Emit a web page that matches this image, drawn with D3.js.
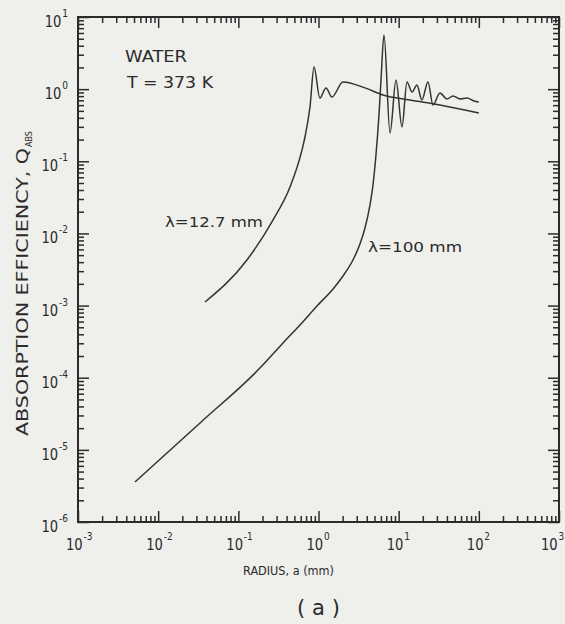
<!DOCTYPE html>
<html><head><meta charset="utf-8">
<script src="https://cdn.jsdelivr.net/npm/d3@7"></script>
<style>html,body{margin:0;padding:0;background:#efefec;} svg{display:block;}</style>
</head><body><svg id="c" width="565" height="624"></svg>
<script>
// ---- data ----
const radius127 = [0.0384, 0.128, 0.270, 0.441, 0.622, 0.678, 0.783, 0.879, 1.04, 1.24, 1.47, 2.02, 3.80, 6.37, 13.8, 32.7, 100];
const qabs127   = [1.12e-3, 4.28e-3, 0.0153, 0.044, 0.143, 0.217, 0.565, 2.03, 0.753, 1.04, 0.778, 1.26, 1.04, 0.83, 0.707, 0.603, 0.467];
const radius100 = [0.00514, 0.0333, 0.186, 0.361, 0.587, 0.957, 1.52, 2.02, 2.69, 3.29, 3.80, 4.39, 4.78, 5.21, 5.68, 6.02, 6.56, 7.80, 9.27, 11.0, 12.7, 14.7, 16.9, 19.5, 23.2, 26.8, 32.7, 40.1, 47.6, 58.2, 71.1, 87.1, 100];
const qabs100   = [3.58e-6, 2.36e-5, 1.36e-4, 3.03e-4, 5.38e-4, 9.86e-4, 1.70e-3, 2.57e-3, 4.28e-3, 7.13e-3, 0.0119, 0.0248, 0.0469, 0.122, 0.438, 1.34, 5.62, 0.247, 1.34, 0.299, 1.26, 0.913, 1.14, 0.707, 1.26, 0.603, 0.884, 0.730, 0.804, 0.730, 0.753, 0.686, 0.664];
const xTickValues = [1e-3, 1e-2, 1e-1, 1, 10, 100, 1000];
const xTickExps   = ["-3", "-2", "-1", "0", "1", "2", "3"];
const yTickValues = [1e-6, 1e-5, 1e-4, 1e-3, 1e-2, 1e-1, 1, 10];
const yTickExps   = ["-6", "-5", "-4", "-3", "-2", "-1", "0", "1"];
const curveLabels = ["λ=12.7 mm", "λ=100 mm"];
const noteLines = ["WATER", "T = 373 K"];

// ---- layout ----
const L = 78, R = 559, T = 17, B = 522;
const ink = "#2b2b2b";
const font = "'DejaVu Sans', sans-serif";
const svg = d3.select("#c");
svg.append("rect").attr("width",565).attr("height",624).attr("fill","#efefec");

const x = d3.scaleLog().domain([1e-3, 1e3]).range([L, R]);
const y = d3.scaleLog().domain([1e-6, 1e1]).range([B, T]);

function minors(lo, hi){ const out=[]; for(let e=lo;e<hi;e++) for(let k=2;k<=9;k++) out.push(k*Math.pow(10,e)); return out; }
const xMinor = minors(-3,3), yMinor = minors(-6,1);

function styleAxis(g){ g.select(".domain").remove(); g.selectAll("line").attr("stroke",ink).attr("stroke-width",1.5); g.selectAll("text").remove(); }
const axes = [
  [d3.axisBottom(x), `translate(0,${B})`, xTickValues, xMinor],
  [d3.axisTop(x), `translate(0,${T})`, xTickValues, xMinor],
  [d3.axisLeft(y), `translate(${L},0)`, yTickValues, yMinor],
  [d3.axisRight(y), `translate(${R},0)`, yTickValues, yMinor]
];
axes.forEach(([ax, tr, maj, min])=>{
  svg.append("g").attr("transform",tr).call(ax.tickValues(min).tickSize(-6).tickSizeOuter(0).tickFormat("")).call(styleAxis);
  svg.append("g").attr("transform",tr).call(ax.tickValues(maj).tickSize(-11).tickSizeOuter(0).tickFormat("")).call(styleAxis);
});
svg.append("rect").attr("x",L).attr("y",T).attr("width",R-L).attr("height",B-T)
  .attr("fill","none").attr("stroke",ink).attr("stroke-width",2);

// ---- tick labels: "10" with superscript, one text element each ----
function powerLabel(px, py, exp, anchor){
  const t = svg.append("text").attr("transform",`translate(${px},${py}) scale(0.82,1)`)
    .attr("font-family",font).attr("fill",ink).attr("text-anchor",anchor);
  t.append("tspan").attr("font-size",16).text("10");
  t.append("tspan").attr("font-size",11).attr("dy",-10).attr("dx",1).text(exp);
  return t;
}
xTickValues.forEach((v,i)=>{
  const sx = Math.min(x(v) - 12, 541);
  powerLabel(sx, 550, xTickExps[i], "start");
});
yTickValues.forEach((v,i)=>{
  powerLabel(68, y(v) + 10, yTickExps[i], "end");
});

// ---- axis titles ----
svg.append("text").attr("x",243).attr("y",575).attr("font-family",font).attr("font-size",13)
  .attr("fill",ink).attr("textLength",91).attr("lengthAdjust","spacingAndGlyphs").text("RADIUS, a (mm)");
const yt = svg.append("text").attr("transform","translate(28,436) rotate(-90)")
  .attr("font-family",font).attr("fill",ink);
yt.append("tspan").attr("font-size",15).attr("textLength",288).attr("lengthAdjust","spacingAndGlyphs").text("ABSORPTION EFFICIENCY, Q");
yt.append("tspan").attr("font-size",8).attr("dx",1).attr("dy",4).text("ABS");
svg.append("text").attr("x",297).attr("y",615).attr("font-family",font).attr("font-size",21)
  .attr("fill",ink).attr("textLength",43).attr("lengthAdjust","spacing").text("(a)");

// ---- notes ----
svg.append("text").attr("x",125).attr("y",62).attr("font-family",font).attr("font-size",15)
  .attr("fill",ink).attr("textLength",62).attr("lengthAdjust","spacingAndGlyphs").text(noteLines[0]);
svg.append("text").attr("x",127).attr("y",88).attr("font-family",font).attr("font-size",15)
  .attr("fill",ink).attr("textLength",86).attr("lengthAdjust","spacingAndGlyphs").text(noteLines[1]);
svg.append("text").attr("x",165).attr("y",227).attr("font-family",font).attr("font-size",14)
  .attr("fill",ink).attr("textLength",98).attr("lengthAdjust","spacingAndGlyphs").text(curveLabels[0]);
svg.append("text").attr("x",368).attr("y",252).attr("font-family",font).attr("font-size",14)
  .attr("fill",ink).attr("textLength",94).attr("lengthAdjust","spacingAndGlyphs").text(curveLabels[1]);

// ---- curves ----
const line = d3.line().x(d=>x(d[0])).y(d=>y(d[1])).curve(d3.curveMonotoneX);
const s127 = radius127.map((a,i)=>[a,qabs127[i]]);
const s100 = radius100.map((a,i)=>[a,qabs100[i]]);
[s127, s100].forEach(s=>{
  svg.append("path").datum(s).attr("d",line).attr("fill","none")
    .attr("stroke","#333").attr("stroke-width",1.5).attr("stroke-linejoin","round");
});
</script></body></html>
